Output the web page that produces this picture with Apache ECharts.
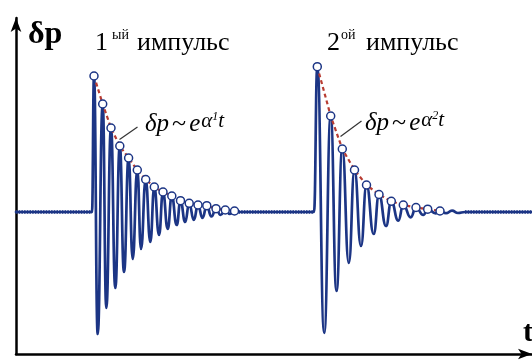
<!DOCTYPE html>
<html>
<head>
<meta charset="utf-8">
<script src="https://cdn.jsdelivr.net/npm/echarts@6/dist/echarts.min.js"></script>
<style>
  html, body { margin: 0; padding: 0; background: #ffffff; }
  #chart { width: 532px; height: 361px; }
</style>
</head>
<body>
<div id="chart"></div>
<script>
// Pressure response δp(t) to two pulses: damped oscillations after each pulse.
// Time in arbitrary units, δp relative to the steady level (0).

// 1st pulse: oscillation maxima and minima
const pulse1Start = 76;
const pulse1PeakT = [78, 86.7, 95, 103.8, 112.6, 121.3, 129.7, 138.3, 147, 155.8, 164.5, 173.2, 182, 190.8, 200, 209.3, 218.5];
const pulse1PeakV = [136, 108, 84, 66, 54, 42, 32.5, 25, 20, 16, 11.3, 8.7, 7, 6.3, 3.3, 2, 1];
const pulse1TroughT = [81.7, 90.3, 99.3, 108, 116.7, 125, 134.3, 143, 151.7, 160.7, 169.2, 177.8, 186.5, 195.4, 204.6, 213.9];
const pulse1TroughV = [-122, -96, -76, -60, -47, -37, -30, -23, -17, -13, -10, -8, -6, -4.5, -3, -2];
const pulse1End = 222.5;

// 2nd pulse: oscillation maxima and minima
const pulse2Start = 298;
const pulse2PeakT = [301.3, 314.7, 326.3, 338.5, 350.5, 363, 375.3, 387.3, 400, 411.7, 424];
const pulse2PeakV = [145.3, 96, 63, 42, 27, 17.5, 10.7, 7, 4.5, 2.8, 1];
const pulse2TroughT = [308.2, 320.5, 332.8, 345, 357.7, 370, 382.3, 394.7, 407.3, 419.7];
const pulse2TroughV = [-121, -79, -51, -34, -22, -14, -8.7, -5.3, -3, -1.3];
const pulse2TailT = [430, 436, 442, 449];
const pulse2TailV = [-1.2, 1.3, -1, 0];

const tStart = 0;
const tEnd = 516;

// leader lines from the envelope to the formula labels
const leader1 = [[103.5, 72.5], [121.5, 85]];
const leader2 = [[324.5, 75.5], [345.5, 91]];

const NAVY = '#1c3585';
const ENVELOPE = '#b83c32';
const SERIF = '"Liberation Serif", "Times New Roman", serif';

function pulseTrace(start, peakT, peakV, troughT, troughV) {
  const pts = [[start, 0]];
  for (let i = 0; i < peakT.length; i++) {
    pts.push([peakT[i], peakV[i]]);
    if (i < troughT.length) pts.push([troughT[i], troughV[i]]);
  }
  return pts;
}

const signal = [[tStart, 0]]
  .concat(pulseTrace(pulse1Start, pulse1PeakT, pulse1PeakV, pulse1TroughT, pulse1TroughV))
  .concat([[pulse1End, 0]])
  .concat(pulseTrace(pulse2Start, pulse2PeakT, pulse2PeakV, pulse2TroughT, pulse2TroughV))
  .concat(pulse2TailT.map((t, i) => [t, pulse2TailV[i]]))
  .concat([[tEnd, 0]]);

// steady-level stretches between the pulses
const steady = [[tStart, 0], [pulse1Start, 0], '-', [pulse1End, 0], [pulse2Start, 0], '-',
  [pulse2TailT[pulse2TailT.length - 1], 0], [tEnd, 0]];

const env1 = pulse1PeakT.map((t, i) => [t, pulse1PeakV[i]]);
const env2 = pulse2PeakT.map((t, i) => [t, pulse2PeakV[i]]);

const chart = echarts.init(document.getElementById('chart'), null, { renderer: 'canvas' });

const formulaRich = (sub) => ({
  text: '{m|δp}{g|~}{e|e}{s|α}{u|' + sub + '}{s|t}',
  rich: {
    m: { fontFamily: SERIF, fontStyle: 'italic', fontSize: 25, lineHeight: 26, fill: '#000' },
    e: { fontFamily: SERIF, fontStyle: 'italic', fontSize: 25, lineHeight: 26, padding: [0, 1, 0, 0], fill: '#000' },
    g: { fontFamily: SERIF, fontSize: 26, lineHeight: 26, padding: [0, 3, 0, 3], fill: '#000' },
    s: { fontFamily: SERIF, fontStyle: 'italic', fontSize: 21, lineHeight: 11, verticalAlign: 'top', fill: '#000' },
    u: { fontFamily: SERIF, fontStyle: 'italic', fontSize: 12, lineHeight: 24, verticalAlign: 'top', fill: '#000' }
  },
  align: 'left',
  verticalAlign: 'top'
});

chart.setOption({
  animation: false,
  backgroundColor: '#ffffff',
  grid: { left: 16, right: 0, top: 18, bottom: 7 },
  xAxis: {
    type: 'value', min: tStart, max: tEnd,
    axisLine: { show: true, onZero: false, symbol: ['none', 'arrow'], symbolSize: [8, 14],
      lineStyle: { color: '#000', width: 2.5 } },
    axisTick: { show: false }, axisLabel: { show: false }, splitLine: { show: false }
  },
  yAxis: {
    type: 'value', min: -142, max: 194,
    axisLine: { show: true, onZero: false, symbol: ['none', 'arrow'], symbolSize: [8, 14],
      lineStyle: { color: '#000', width: 2.5 } },
    axisTick: { show: false }, axisLabel: { show: false }, splitLine: { show: false }
  },
  series: [
    {
      name: 'δp', type: 'line', data: signal, showSymbol: false, z: 2,
      smooth: 0.5, smoothMonotone: 'x',
      lineStyle: { color: NAVY, width: 2.7, join: 'round', cap: 'round' }
    },
    {
      name: 'steady level', type: 'line', data: steady, showSymbol: false, z: 2,
      lineStyle: { color: NAVY, width: 3.4, type: [1.5, 1.2] }
    },
    {
      name: 'envelope 1', type: 'line', data: env1, showSymbol: false, z: 3,
      lineStyle: { color: ENVELOPE, width: 2.2, type: [4, 3] }
    },
    {
      name: 'envelope 2', type: 'line', data: env2, showSymbol: false, z: 3,
      lineStyle: { color: ENVELOPE, width: 2.2, type: [4, 3] }
    },
    {
      name: 'maxima', type: 'scatter', data: env1.concat(env2), z: 4,
      symbol: 'circle', symbolSize: 8,
      itemStyle: { color: '#ffffff', borderColor: NAVY, borderWidth: 1.5, opacity: 1 }
    },
    {
      name: 'leader 1', type: 'line', data: leader1, showSymbol: false, z: 3,
      lineStyle: { color: '#333', width: 1.2 }
    },
    {
      name: 'leader 2', type: 'line', data: leader2, showSymbol: false, z: 3,
      lineStyle: { color: '#333', width: 1.2 }
    }
  ],
  graphic: [
    { type: 'text', left: 28, top: 19, style: { text: 'δp', fontFamily: SERIF, fontWeight: 'bold', fontSize: 32, fill: '#000' } },
    { type: 'text', left: 523, top: 318, style: { text: 't', fontFamily: SERIF, fontWeight: 'bold', fontSize: 30, fill: '#000' } },

    { type: 'text', left: 95, top: 30, style: { text: '1', fontFamily: SERIF, fontSize: 26, fill: '#000' } },
    { type: 'text', left: 112, top: 28, style: { text: 'ый', fontFamily: SERIF, fontSize: 14, fill: '#000' } },
    { type: 'text', left: 137, top: 30, style: { text: 'импульс', fontFamily: SERIF, fontSize: 26, fill: '#000' } },

    { type: 'text', left: 327, top: 30, style: { text: '2', fontFamily: SERIF, fontSize: 26, fill: '#000' } },
    { type: 'text', left: 341, top: 28, style: { text: 'ой', fontFamily: SERIF, fontSize: 14, fill: '#000' } },
    { type: 'text', left: 366, top: 30, style: { text: 'импульс', fontFamily: SERIF, fontSize: 26, fill: '#000' } },

    { type: 'text', x: 145, y: 111, style: formulaRich('1') },
    { type: 'text', x: 365, y: 110, style: formulaRich('2') }
  ]
});
</script>
</body>
</html>
